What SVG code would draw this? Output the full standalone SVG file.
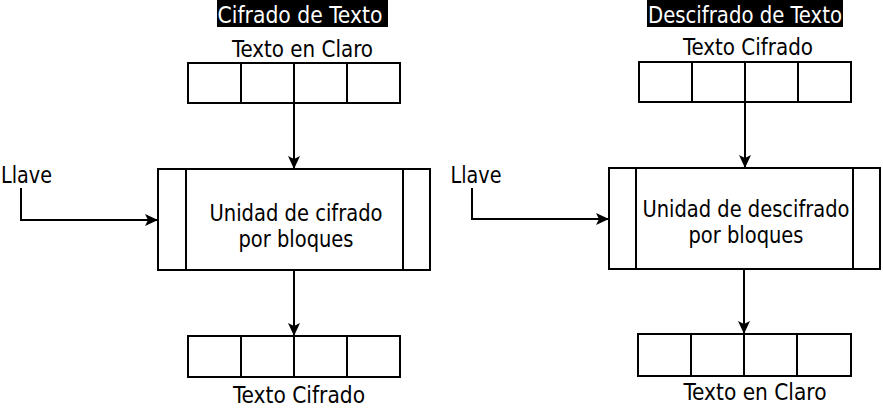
<svg xmlns="http://www.w3.org/2000/svg" width="883" height="410" viewBox="0 0 883 410">
<style>
text{font-family:"DejaVu Sans Condensed","DejaVu Sans",Verdana,sans-serif;font-stretch:condensed;font-size:22.5px;fill:#000;text-anchor:middle}
.t{fill:#fff}
.s{fill:none;stroke:#000;stroke-width:2}
.w{fill:#fff;stroke:#000;stroke-width:2}
.l{fill:none;stroke:#000;stroke-width:2;marker-end:url(#ah)}
</style>
<defs>
<marker id="ah" markerUnits="userSpaceOnUse" markerWidth="14" markerHeight="14" viewBox="0 0 14 14" refX="13" refY="7" orient="auto">
<path d="M0,1 L13,7 L0,13 L3,7 z" fill="#000"/>
</marker>
</defs>
<g id="title-left"><rect x="217" y="0" width="171" height="27" fill="#000"/><text class="t" x="300" y="23" textLength="165" lengthAdjust="spacingAndGlyphs">Cifrado de Texto</text></g>
<g id="title-right"><rect x="647" y="0" width="196" height="27" fill="#000"/><text class="t" x="745" y="23" textLength="194" lengthAdjust="spacingAndGlyphs">Descifrado de Texto</text></g>
<g id="in-left"><text x="302.5" y="57" textLength="141" lengthAdjust="spacingAndGlyphs">Texto en Claro</text>
<rect class="w" x="188" y="63" width="212" height="40"/><path class="s" d="M241,63V103M294,63V103M347,63V103"/></g>
<g id="unit-left"><rect class="w" x="158" y="169" width="272" height="101"/><path class="s" d="M186,169V270M403,169V270"/>
<text x="296" y="221" textLength="173" lengthAdjust="spacingAndGlyphs">Unidad de cifrado</text><text x="296" y="247" textLength="115" lengthAdjust="spacingAndGlyphs">por bloques</text></g>
<g id="key-left"><text x="26.5" y="183" textLength="51" lengthAdjust="spacingAndGlyphs">Llave</text></g>
<g id="out-left"><rect class="w" x="188" y="336" width="212" height="41"/><path class="s" d="M241,336V377M294,336V377M347,336V377"/>
<text x="299" y="403" textLength="132" lengthAdjust="spacingAndGlyphs">Texto Cifrado</text></g>
<g id="in-right"><text x="748" y="55" textLength="130" lengthAdjust="spacingAndGlyphs">Texto Cifrado</text>
<rect class="w" x="639" y="62" width="212" height="40"/><path class="s" d="M692,62V102M745,62V102M798,62V102"/></g>
<g id="unit-right"><rect class="w" x="609" y="168" width="271" height="101"/><path class="s" d="M636,168V269M853,168V269"/>
<text x="746" y="217" textLength="207" lengthAdjust="spacingAndGlyphs">Unidad de descifrado</text><text x="746" y="243" textLength="115" lengthAdjust="spacingAndGlyphs">por bloques</text></g>
<g id="key-right"><text x="476" y="183" textLength="51" lengthAdjust="spacingAndGlyphs">Llave</text></g>
<g id="out-right"><rect class="w" x="638" y="334" width="213" height="42"/><path class="s" d="M691,334V376M744,334V376M797,334V376"/>
<text x="755" y="400" textLength="143" lengthAdjust="spacingAndGlyphs">Texto en Claro</text></g>
<g id="connectors">
<path class="l" d="M294,103V169"/>
<path class="l" d="M294,270V336"/>
<path class="l" d="M21,188V220H158"/>
<path class="l" d="M745,102V168"/>
<path class="l" d="M744,269V334"/>
<path class="l" d="M472,188V219H609"/>
</g>
</svg>
